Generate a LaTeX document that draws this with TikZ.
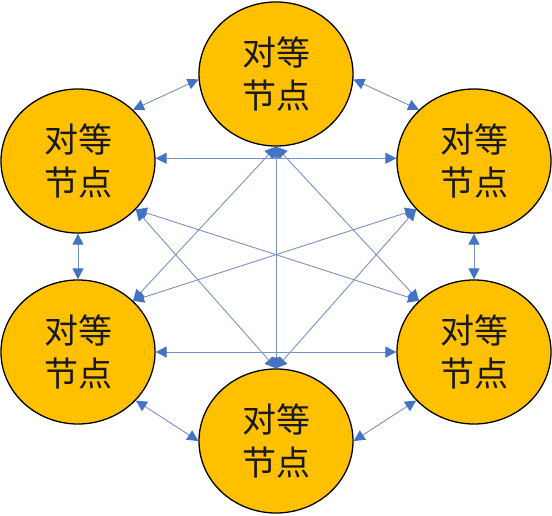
\documentclass[tikz,border=0pt]{standalone}
\usepackage{fontspec}
\newfontfamily\cjk{Noto Sans CJK SC}
\usetikzlibrary{shapes.geometric,arrows.meta}
\definecolor{nodegold}{HTML}{FFC000}
\definecolor{linkblue}{HTML}{4472C4}
\definecolor{linkline}{RGB}{120,146,198}
\begin{document}
\begin{tikzpicture}[x=1pt,y=-1pt,
        peer/.style={ellipse,draw=black,line width=1.3pt,fill=nodegold,
            minimum width=154pt,minimum height=144pt,inner sep=0pt,
            align=center,text=black!90,font=\cjk\fontsize{34}{43}\selectfont},
        link/.style={linkline,line width=0.9pt,<->,
            >={Triangle[length=11pt,width=11pt,color=linkblue]}}]
        \useasboundingbox (0,0) rectangle (552,516);

        % 定义节点
        \node[peer] (t)  at (276,74)  {对等\\节点};
        \node[peer] (tl) at (78,161)  {对等\\节点};
        \node[peer] (tr) at (474,161) {对等\\节点};
        \node[peer] (bl) at (78,352)  {对等\\节点};
        \node[peer] (br) at (474,352) {对等\\节点};
        \node[peer] (b)  at (276,441) {对等\\节点};

        % 外圈连线
        \draw[link] (tl.43) -- (t.184);
        \draw[link] (t.-4) -- (tr.137);
        \draw[link] (tl.south) -- (bl.north);
        \draw[link] (tr.south) -- (br.north);
        \draw[link] (bl.-40) -- (b.west);
        \draw[link] (b.east) -- (br.-140);

        % 内部连线
        \draw[link] (tl.2) -- (tr.178);
        \draw[link] (bl.east) -- (br.west);
        \draw[link] (t.south) -- (b.north);
        \draw[link] (t.south) -- (bl.43);
        \draw[link] (t.south) -- (br.137);
        \draw[link] (b.north) -- (tl.-40);
        \draw[link] (b.north) -- (tr.-140);
        \draw[link] (tl.-40) -- (br.137);
        \draw[link] (bl.43) -- (tr.-140);
\end{tikzpicture}
\end{document}
